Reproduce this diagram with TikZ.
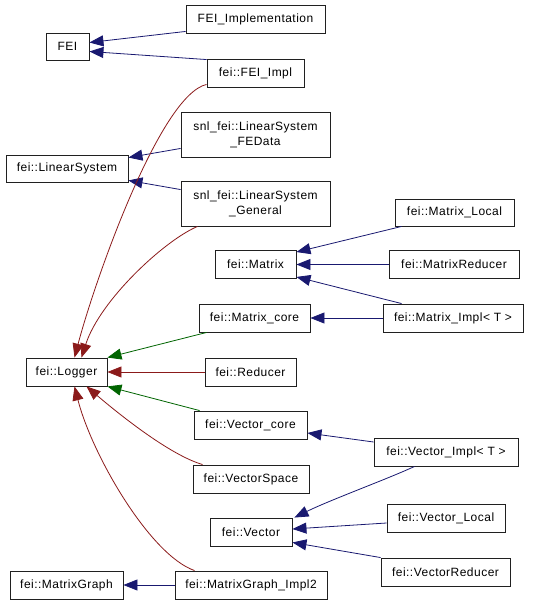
\documentclass[tikz,border=0pt]{standalone}
\usepackage{fontspec}
\setmainfont{Liberation Sans}[LetterSpace=4]
\usetikzlibrary{arrows.meta,calc}
\usepackage{xcolor}
\definecolor{pubc}{HTML}{191970}
\definecolor{protc}{HTML}{006400}
\definecolor{privc}{HTML}{8B1A1A}
\definecolor{boxline}{HTML}{202020}

\begin{document}
\begin{tikzpicture}[x=1pt, y=-1pt,
      cls/.style={draw=boxline, line width=0.9pt, minimum height=28pt, inner sep=2pt,
                  align=center, font=\fontsize{12}{15}\selectfont},
      pub/.style={draw=pubc, line width=0.8pt, -{Triangle[length=14pt, width=11pt]}},
      prot/.style={draw=protc, line width=0.8pt, -{Triangle[length=14pt, width=11pt]}},
      priv/.style={draw=privc, line width=0.8pt, -{Triangle[length=14pt, width=11pt]}}
    ]
      \useasboundingbox (0,0) rectangle (533,605);

      \node[cls, minimum width=43pt, minimum height=27pt] (fei) at (67.5,46.5) {FEI};
      \node[cls, minimum width=139pt] (femi) at (255.5,19) {FEI\_Implementation};
      \node[cls, minimum width=97pt] (fimpl) at (255.5,73) {fei::FEI\_Impl};
      \node[cls, minimum width=149pt, minimum height=45pt] (fedata) at (255.5,134.5) {snl\_fei::LinearSystem\\\_FEData};
      \node[cls, minimum width=122pt, minimum height=27pt] (linsys) at (67,168.5) {fei::LinearSystem};
      \node[cls, minimum width=149pt, minimum height=45pt] (general) at (255.5,203.5) {snl\_fei::LinearSystem\\\_General};
      \node[cls, minimum width=81pt] (matrix) at (255.5,264.5) {fei::Matrix};
      \node[cls, minimum width=119pt, minimum height=27pt] (mlocal) at (454.5,212.5) {fei::Matrix\_Local};
      \node[cls, minimum width=130pt] (mred) at (454,264.5) {fei::MatrixReducer};
      \node[cls, minimum width=111pt] (mcore) at (254.5,318) {fei::Matrix\_core};
      \node[cls, minimum width=140pt] (mimpl) at (453,318) {fei::Matrix\_Impl< T >};
      \node[cls, minimum width=81pt] (logger) at (66.5,372) {fei::Logger};
      \node[cls, minimum width=91pt] (reducer) at (250.5,372) {fei::Reducer};
      \node[cls, minimum width=113pt] (vcore) at (250.5,425) {fei::Vector\_core};
      \node[cls, minimum width=144pt] (vimpl) at (446,452) {fei::Vector\_Impl< T >};
      \node[cls, minimum width=116pt] (vspace) at (251,479) {fei::VectorSpace};
      \node[cls, minimum width=118pt] (vlocal) at (446,518) {fei::Vector\_Local};
      \node[cls, minimum width=82pt] (vector) at (251,532) {fei::Vector};
      \node[cls, minimum width=129pt] (vred) at (445.5,572) {fei::VectorReducer};
      \node[cls, minimum width=113pt] (mgraph) at (66.5,585) {fei::MatrixGraph};
      \node[cls, minimum width=152pt] (mgimpl) at (251,585) {fei::MatrixGraph\_Impl2};

      % public
      \draw[pub] ($(femi.south west)+(0,-2)$) -- ($(fei.east)+(0,-4)$);
      \draw[pub] ($(fimpl.north west)+(0,1)$) -- ($(fei.east)+(0,5)$);
      \draw[pub] ($(fedata.south west)+(0,-9)$) -- ($(linsys.north east)+(0,3)$);
      \draw[pub] ($(general.north west)+(0,9)$) -- ($(linsys.south east)+(0,-2)$);
      \draw[pub] ($(mlocal.south west)+(7,0)$) -- ($(matrix.north east)+(0,2)$);
      \draw[pub] (mred.west) -- (matrix.east);
      \draw[pub] ($(mimpl.north west)+(19,0)$) -- ($(matrix.south east)+(0,-2)$);
      \draw[pub] (mimpl.west) -- (mcore.east);
      \draw[pub] ($(vimpl.west)+(0,-10)$) -- ($(vcore.east)+(0,8)$);
      \draw[pub] ($(vimpl.south west)+(41,0)$) .. controls (385,480) and (330,500) .. ($(vector.north east)+(2,0)$);
      \draw[pub] ($(vlocal.west)+(0,5)$) -- ($(vector.east)+(0,-3)$);
      \draw[pub] (vred.north west) -- ($(vector.south east)+(0,-4)$);
      \draw[pub] (mgimpl.west) -- (mgraph.east);

      % protected
      \draw[prot] ($(mcore.south west)+(8,0)$) -- (logger.north east);
      \draw[prot] ($(vcore.north west)+(6,0)$) -- (logger.south east);

      % private
      \draw[priv] (reducer.west) -- (logger.east);
      \draw[priv] ($(fimpl.south west)+(0,-3)$) .. controls (160,95) and (95,280) .. ($(logger.north)+(8,0)$);
      \draw[priv] ($(general.south west)+(17,0)$) .. controls (165,240) and (100,300) .. ($(logger.north)+(15,0)$);
      \draw[priv] ($(vspace.north west)+(10,0)$) .. controls (170,455) and (120,415) .. ($(logger.south)+(20,0)$);
      \draw[priv] ($(mgimpl.north west)+(20,0)$) .. controls (150,555) and (92,455) .. ($(logger.south)+(8,0)$);
    \end{tikzpicture}
\end{document}
